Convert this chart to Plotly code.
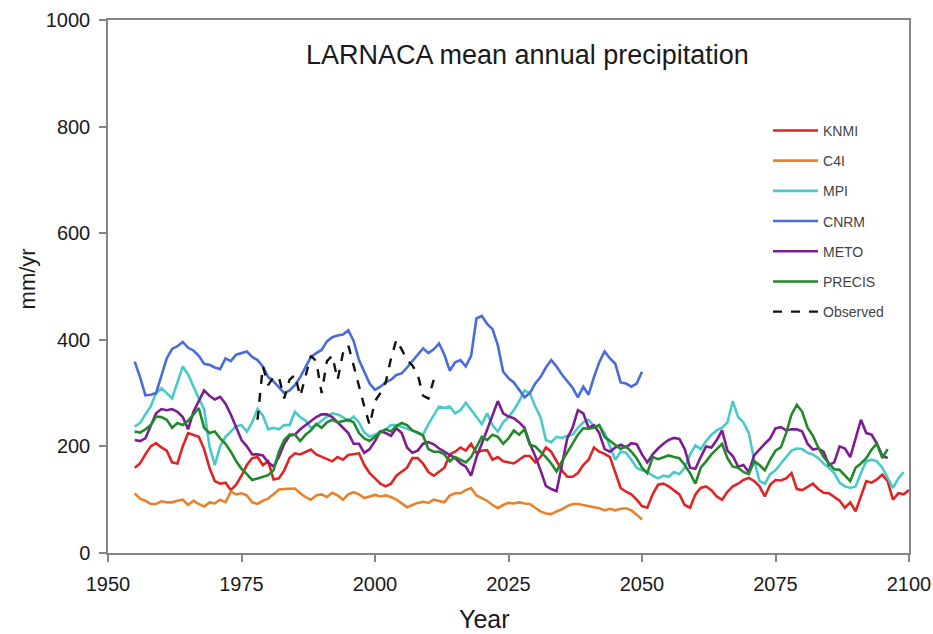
import plotly.graph_objects as go

# ---------------- data (mm/yr) ----------------
MODEL_START = 1955
OBS_START = 1978

knmi = [160,168,185,200,206,198,192,170,168,200,225,222,218,195,160,135,130,132,118,128,145,165,178,180,
        165,172,138,140,155,178,187,185,190,194,185,181,176,172,180,175,184,186,187,165,150,140,130,125,130,
        145,153,160,178,178,168,152,145,152,160,185,190,198,192,205,188,192,193,175,180,172,170,168,175,182,
        182,170,180,198,190,172,155,143,143,150,165,175,198,190,186,180,150,122,115,110,100,88,85,110,128,130,
        125,118,110,90,85,110,122,125,118,106,100,115,125,130,137,141,135,125,106,128,137,136,140,150,
        120,118,124,130,120,113,112,105,98,85,95,78,105,135,132,138,147,135,100,112,110,118]

c4i = [112,102,98,92,92,97,95,95,98,100,90,98,92,87,95,93,100,95,115,110,112,108,95,
       92,98,102,110,119,120,120,121,112,105,100,108,110,105,113,108,100,110,114,110,103,106,109,106,108,105,
       100,93,86,90,94,96,94,100,97,95,108,112,112,118,122,108,103,98,90,84,90,94,93,95,93,
       92,85,78,74,73,78,82,88,92,92,90,88,85,84,80,83,80,83,84,80,72,63]

mpi = [237,244,260,275,300,309,300,290,320,350,335,312,290,270,200,165,200,218,228,238,240,228,245,
       270,258,232,235,232,240,240,265,255,248,235,240,248,256,262,260,255,247,256,245,226,218,222,228,232,240,
       240,237,234,230,225,222,242,258,275,272,275,262,268,282,268,255,242,262,240,228,245,255,268,285,305,
       300,275,255,212,208,218,216,220,222,235,245,250,238,238,225,200,175,190,188,175,160,155,152,145,140,145,
       143,152,148,160,185,202,195,210,222,230,235,245,285,255,245,225,175,135,130,148,155,168,180,192,
       196,195,188,185,178,168,160,150,132,125,122,125,150,172,175,172,160,140,122,140,152]

cnrm = [359,330,296,297,300,335,365,383,388,396,385,380,370,355,353,348,345,365,360,372,375,378,368,
        362,350,330,322,310,300,305,315,330,350,368,375,381,397,405,408,410,418,398,362,340,318,306,312,320,325,
        334,337,348,360,372,384,375,382,393,372,342,358,362,350,370,440,445,430,420,390,340,328,320,305,292,
        300,318,330,348,362,350,335,322,310,292,312,297,330,358,378,365,355,320,318,312,318,340]

meto = [212,210,215,240,262,270,268,270,265,255,232,265,285,305,295,288,293,280,260,235,212,200,185,
        185,183,170,162,180,205,220,222,232,240,248,255,260,260,255,245,235,225,205,205,188,195,210,228,225,220,
        234,225,198,188,192,205,208,204,196,190,183,178,168,162,145,180,205,230,258,285,262,256,253,245,235,
        205,182,155,126,120,116,165,215,235,268,262,235,240,225,195,190,198,203,198,206,204,185,170,185,196,205,
        212,216,214,195,160,158,180,200,198,212,230,192,182,162,165,152,183,195,205,215,234,236,230,232,
        232,228,205,194,196,190,165,170,200,196,180,215,250,225,222,205,183,178]

precis = [228,226,232,240,256,255,250,235,244,240,248,260,272,235,225,228,215,205,190,172,158,148,137,
          140,143,146,155,190,212,222,222,210,222,230,242,235,245,250,245,248,250,245,225,215,210,218,226,232,228,
          238,244,240,230,226,220,195,190,190,185,172,180,175,170,180,200,218,212,222,218,205,215,230,222,232,
          203,200,190,180,168,153,172,188,205,222,234,233,235,240,218,210,202,195,200,190,178,160,150,180,176,180,
          183,180,178,165,150,130,160,172,185,195,205,178,162,160,152,148,172,165,155,175,192,198,225,260,
          278,265,235,220,198,180,168,157,156,145,135,160,168,178,194,205,178,195]

observed = [250,350,315,330,330,290,325,334,294,330,370,360,300,360,370,325,375,390,350,315,
            275,240,285,300,320,365,400,382,362,352,335,295,290,325]

series_names = ["KNMI", "C4I", "MPI", "CNRM", "METO", "PRECIS"]
series_values = [knmi, c4i, mpi, cnrm, meto, precis]
series_colors = ["#E02424", "#E8832C", "#48CACA", "#4A6CDA", "#7E1C94", "#22892A"]

x_ticks = [1950, 1975, 2000, 2025, 2050, 2075, 2100]
y_ticks = [0, 200, 400, 600, 800, 1000]

FONT = "Liberation Sans, Arial, sans-serif"

fig = go.Figure()
for i, (name, vals, col) in enumerate(zip(series_names, series_values, series_colors)):
    years = list(range(MODEL_START, MODEL_START + len(vals)))
    fig.add_trace(go.Scatter(x=years, y=vals, mode="lines", name=name,
                             line=dict(color=col, width=2.6), legendgroup=f"g{i}"))

obs_years = list(range(OBS_START, OBS_START + len(observed)))
fig.add_trace(go.Scatter(x=obs_years, y=observed, mode="lines", name="Observed",
                         line=dict(color="#111111", width=2.4, dash="dash"), legendgroup="gobs"))

axis_common = dict(showline=True, linecolor="#858585", linewidth=1.5, mirror=True,
                   ticks="outside", ticklen=7, tickcolor="#858585", tickwidth=1.5,
                   showgrid=False, zeroline=False, automargin=False,
                   tickfont=dict(family=FONT, size=20, color="#1a1a1a"))

fig.update_xaxes(range=[1950, 2100], tickvals=x_ticks, ticklabelstandoff=5, **axis_common)
fig.update_yaxes(range=[0, 1000], tickvals=y_ticks, ticklabelstandoff=5, **axis_common)

fig.update_layout(
    width=933, height=634,
    margin=dict(l=108, r=24, t=20, b=81),
    paper_bgcolor="white", plot_bgcolor="white",
    font=dict(family=FONT),
    showlegend=True,
    legend=dict(x=0.824, y=0.822, xanchor="left", yanchor="top",
                bgcolor="rgba(255,255,255,0)", borderwidth=0,
                font=dict(family=FONT, size=14, color="#444444"),
                tracegroupgap=9, itemwidth=45),
    annotations=[
        dict(text="LARNACA mean annual precipitation", xref="paper", yref="paper",
             x=0.524, y=0.934, showarrow=False, xanchor="center", yanchor="middle",
             font=dict(family=FONT, size=27, color="#1a1a1a")),
        dict(text="Year", xref="paper", yref="paper", x=0.47, y=-0.123,
             showarrow=False, xanchor="center", yanchor="middle",
             font=dict(family=FONT, size=25, color="#1a1a1a")),
        dict(text="mm/yr", xref="paper", yref="paper", x=-0.1, y=0.515,
             showarrow=False, xanchor="center", yanchor="middle", textangle=-90,
             font=dict(family=FONT, size=22, color="#1a1a1a")),
    ],
)

# remove the default 8px page margin so the 933x634 figure fills the window exactly
fig.write_html("out.html", config={"displayModeBar": False},
               post_script="document.body.style.margin='0';document.body.style.overflow='hidden';")
